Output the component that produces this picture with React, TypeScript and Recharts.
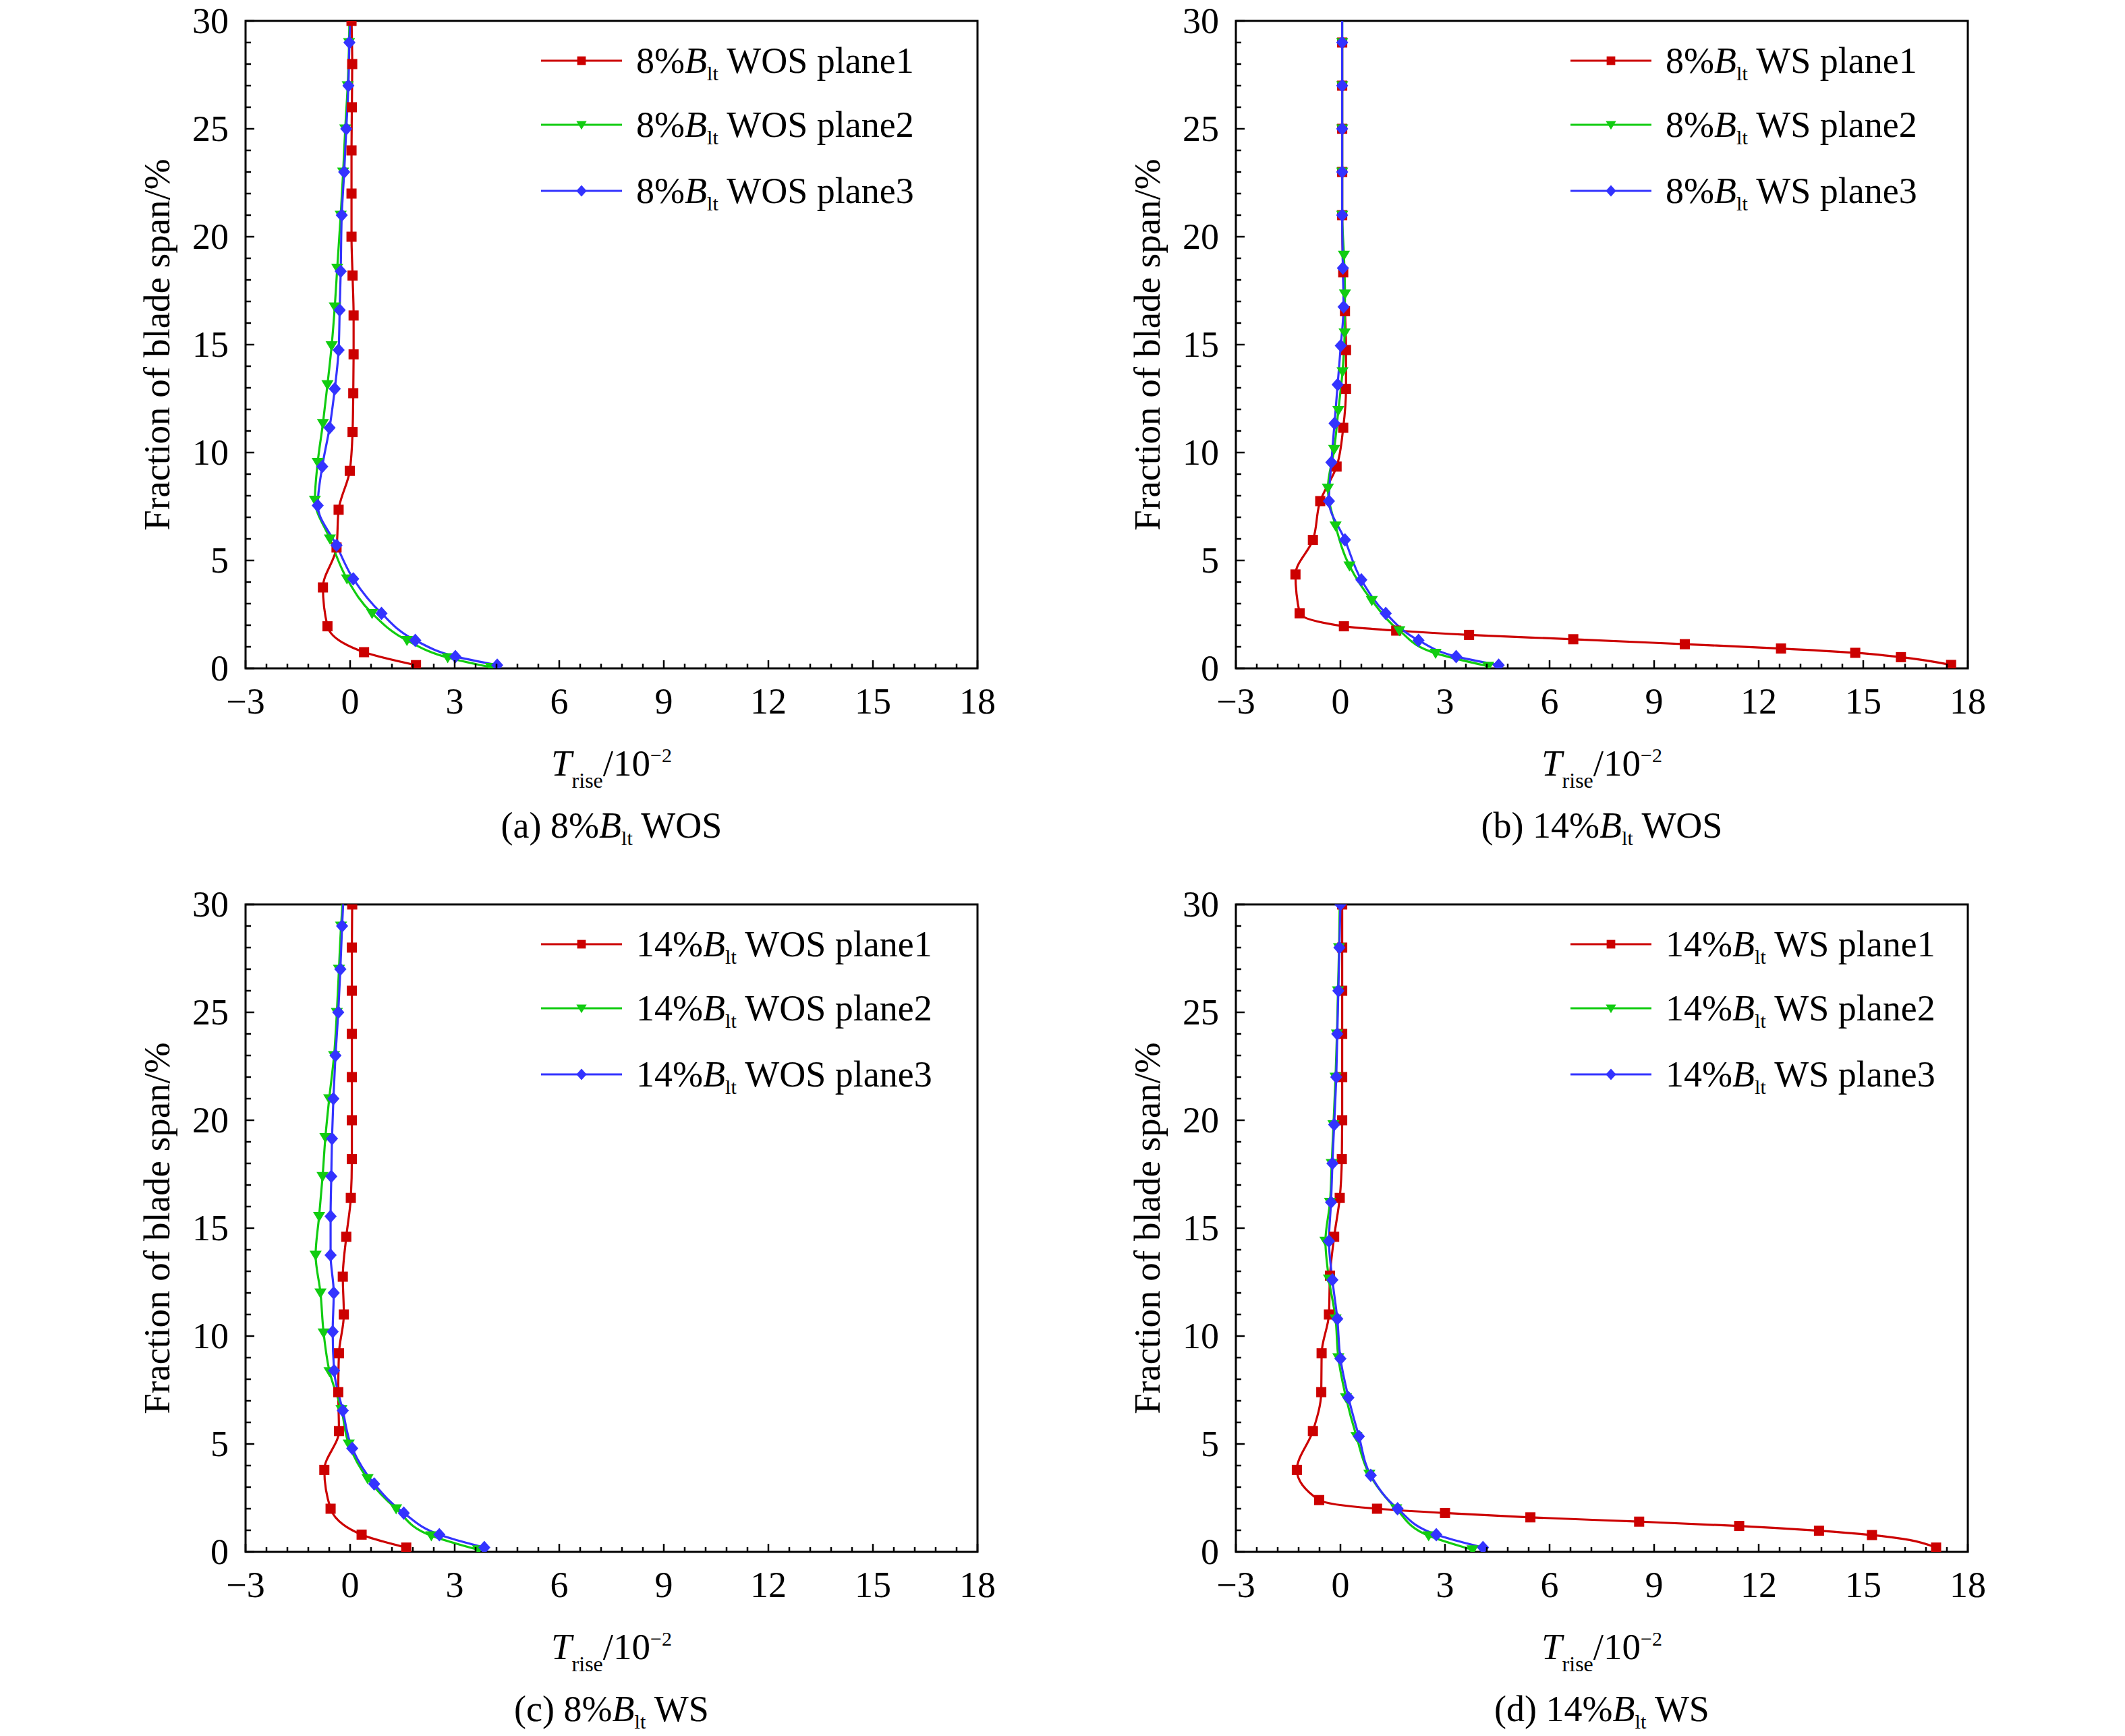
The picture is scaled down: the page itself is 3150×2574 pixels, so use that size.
import { LineChart, Line, XAxis, YAxis, ReferenceArea, Legend } from "recharts";

const FONT = '"Liberation Serif", "Times New Roman", serif';
const RED = "#cc0000";
const GREEN = "#11cc11";
const BLUE = "#3333ff";

// [T_rise (1e-2), fraction of blade span (%)]
const A_PLANE1 = [
  [0.04, 30], [0.06, 28], [0.05, 26], [0.04, 24], [0.04, 22], [0.04, 20], [0.07, 18.2],
  [0.1, 16.35], [0.1, 14.55], [0.09, 12.75], [0.07, 10.95], [-0.01, 9.15], [-0.33, 7.35],
  [-0.39, 5.6], [-0.78, 3.75], [-0.65, 1.95], [0.4, 0.75], [1.89, 0.15],
];
const A_PLANE2 = [
  [-0.02, 30], [-0.03, 29], [-0.07, 27], [-0.14, 25], [-0.2, 23], [-0.27, 21], [-0.37, 18.55],
  [-0.44, 16.75], [-0.53, 14.95], [-0.65, 13.15], [-0.78, 11.35], [-0.93, 9.55], [-1.01, 7.8],
  [-0.58, 6.0], [-0.09, 4.15], [0.63, 2.55], [1.63, 1.3], [2.8, 0.5], [4.04, 0.05],
];
const A_PLANE3 = [
  [0.0, 30], [-0.02, 29], [-0.05, 27], [-0.11, 25], [-0.17, 23], [-0.24, 21], [-0.27, 18.4],
  [-0.3, 16.6], [-0.33, 14.75], [-0.44, 12.95], [-0.59, 11.15], [-0.8, 9.35], [-0.93, 7.55],
  [-0.39, 5.7], [0.09, 4.15], [0.9, 2.55], [1.87, 1.3], [3.02, 0.55], [4.22, 0.15],
];

const B_PLANE1 = [
  [0.05, 29], [0.05, 27], [0.05, 25], [0.05, 23], [0.05, 21], [0.08, 18.35], [0.13, 16.55],
  [0.16, 14.75], [0.16, 12.95], [0.08, 11.15], [-0.11, 9.35], [-0.58, 7.75], [-0.79, 5.95],
  [-1.29, 4.35], [-1.17, 2.55], [0.1, 1.95], [1.6, 1.75], [3.69, 1.55], [6.68, 1.35],
  [9.88, 1.12], [12.64, 0.92], [14.77, 0.72], [16.08, 0.52], [17.52, 0.16],
];
const B_PLANE2 = [
  [0.05, 30], [0.05, 29], [0.05, 27], [0.05, 25], [0.05, 23], [0.05, 21], [0.1, 19.15],
  [0.13, 17.35], [0.12, 15.55], [0.06, 13.75], [-0.06, 11.95], [-0.18, 10.15], [-0.36, 8.35],
  [-0.14, 6.6], [0.26, 4.75], [0.9, 3.15], [1.69, 1.75], [2.73, 0.7], [4.24, 0.1],
];
const B_PLANE3 = [
  [0.05, 30], [0.05, 29], [0.05, 27], [0.05, 25], [0.05, 23], [0.05, 21], [0.07, 18.55],
  [0.09, 16.75], [0.01, 14.95], [-0.08, 13.15], [-0.17, 11.35], [-0.26, 9.55], [-0.33, 7.75],
  [0.13, 5.95], [0.6, 4.1], [1.3, 2.55], [2.24, 1.3], [3.32, 0.55], [4.54, 0.15],
];

const C_PLANE1 = [
  [0.06, 30], [0.05, 28], [0.05, 26], [0.05, 24], [0.05, 22], [0.05, 20], [0.05, 18.2],
  [0.02, 16.4], [-0.11, 14.6], [-0.21, 12.75], [-0.18, 11.0], [-0.32, 9.2], [-0.34, 7.4],
  [-0.32, 5.6], [-0.74, 3.8], [-0.56, 2.0], [0.33, 0.8], [1.61, 0.2],
];
const C_PLANE2 = [
  [-0.22, 30], [-0.26, 29], [-0.32, 27], [-0.38, 25], [-0.46, 23], [-0.6, 21], [-0.71, 19.2],
  [-0.79, 17.4], [-0.89, 15.55], [-0.99, 13.75], [-0.85, 12.0], [-0.76, 10.15], [-0.59, 8.35],
  [-0.25, 6.6], [-0.04, 5.0], [0.5, 3.4], [1.32, 2.0], [2.33, 0.75], [3.67, 0.1],
];
const C_PLANE3 = [
  [-0.2, 30], [-0.23, 29], [-0.28, 27], [-0.34, 25], [-0.42, 23], [-0.48, 21], [-0.52, 19.15],
  [-0.54, 17.4], [-0.56, 15.55], [-0.56, 13.75], [-0.47, 12.0], [-0.5, 10.2], [-0.46, 8.4],
  [-0.21, 6.55], [0.06, 4.8], [0.69, 3.15], [1.54, 1.8], [2.56, 0.8], [3.85, 0.2],
];

const D_PLANE1 = [
  [0.05, 30], [0.05, 28], [0.05, 26], [0.05, 24], [0.05, 22], [0.05, 20], [0.04, 18.2],
  [-0.02, 16.4], [-0.18, 14.6], [-0.3, 12.8], [-0.33, 11.0], [-0.54, 9.2], [-0.55, 7.4],
  [-0.79, 5.6], [-1.25, 3.8], [-0.61, 2.4], [1.05, 2.0], [3.0, 1.8], [5.45, 1.6], [8.57, 1.4],
  [11.44, 1.2], [13.73, 0.98], [15.25, 0.78], [17.09, 0.2],
];
const D_PLANE2 = [
  [-0.02, 30], [-0.04, 28], [-0.07, 26], [-0.1, 24], [-0.14, 22], [-0.2, 19.8], [-0.25, 18.0],
  [-0.3, 16.2], [-0.43, 14.4], [-0.33, 12.65], [-0.14, 10.8], [-0.06, 9.0], [0.16, 7.15],
  [0.46, 5.35], [0.83, 3.6], [1.6, 2.0], [2.53, 0.75], [3.79, 0.1],
];
const D_PLANE3 = [
  [0.0, 30], [-0.03, 28], [-0.06, 26], [-0.09, 24], [-0.12, 22], [-0.18, 19.8], [-0.23, 18.0],
  [-0.27, 16.2], [-0.33, 14.4], [-0.23, 12.6], [-0.09, 10.8], [0.0, 8.95], [0.23, 7.15],
  [0.53, 5.35], [0.87, 3.55], [1.64, 2.0], [2.75, 0.8], [4.09, 0.2],
];

const X_TICKS = [
  -3, -2.4, -1.8, -1.2, -0.6, 0, 0.6, 1.2, 1.8, 2.4, 3, 3.6, 4.2, 4.8, 5.4, 6, 6.6, 7.2, 7.8,
  8.4, 9, 9.6, 10.2, 10.8, 11.4, 12, 12.6, 13.2, 13.8, 14.4, 15, 15.6, 16.2, 16.8, 17.4, 18,
];
const X_LABELS = [-3, 0, 3, 6, 9, 12, 15, 18];
const Y_TICKS = [
  0, 1, 2, 3, 4, 5, 6, 7, 8, 9, 10, 11, 12, 13, 14, 15, 16, 17, 18, 19, 20, 21, 22, 23, 24, 25,
  26, 27, 28, 29, 30,
];
const Y_LABELS = [0, 5, 10, 15, 20, 25, 30];
const PLANE_NAMES = ["plane1", "plane2", "plane3"];

// layout (px)
const PLOT_LEFT = 364;
const PLOT_TOP = 31;
const PLOT_W = 1085;
const PLOT_H = 960;
const X_AXIS_H = 275;
const RIGHT_PAD = 45;
const CHART_W = PLOT_LEFT + PLOT_W + RIGHT_PAD;
const CHART_H = PLOT_TOP + PLOT_H + X_AXIS_H;
const LEGEND_ROWS = [59, 154, 252];

const STYLES = [
  { color: RED, shape: "square" },
  { color: GREEN, shape: "tri" },
  { color: BLUE, shape: "diamond" },
];

const PANELS = [
  { id: "a", left: 0, top: 0, legendLeft: 438, skipTop: true, pct: "8%", kind: "WOS",
    capPre: "(a) 8%", capPost: "WOS", series: [A_PLANE1, A_PLANE2, A_PLANE3] },
  { id: "b", left: 1468, top: 0, legendLeft: 496, skipTop: true, pct: "8%", kind: "WS",
    capPre: "(b) 14%", capPost: "WOS", series: [B_PLANE1, B_PLANE2, B_PLANE3] },
  { id: "c", left: 0, top: 1310, legendLeft: 438, skipTop: true, pct: "14%", kind: "WOS",
    capPre: "(c) 8%", capPost: "WS", series: [C_PLANE1, C_PLANE2, C_PLANE3] },
  { id: "d", left: 1468, top: 1310, legendLeft: 496, skipTop: false, pct: "14%", kind: "WS",
    capPre: "(d) 14%", capPost: "WS", series: [D_PLANE1, D_PLANE2, D_PLANE3] },
];

const toPoints = (pairs: number[][]) => pairs.map(([x, y]) => ({ x, y }));
const fmt = (v: number) => (v < 0 ? `\u2212${Math.abs(v)}` : `${v}`);

function Marker({ cx, cy, shape, color, s = 1 }: any) {
  if (shape === "square") {
    return <rect x={cx - 7.5 * s} y={cy - 7.5 * s} width={15 * s} height={15 * s} fill={color} />;
  }
  if (shape === "tri") {
    return (
      <path
        d={`M${cx - 9 * s},${cy - 6.5 * s}L${cx + 9 * s},${cy - 6.5 * s}L${cx},${cy + 8.5 * s}Z`}
        fill={color}
      />
    );
  }
  return (
    <path
      d={`M${cx},${cy - 10 * s}L${cx + 9 * s},${cy}L${cx},${cy + 10 * s}L${cx - 9 * s},${cy}Z`}
      fill={color}
    />
  );
}

const makeDot = (shape: string, color: string, skipFirst: boolean) => (props: any) => {
  const { cx, cy, index } = props;
  if (cx == null || cy == null || (skipFirst && index === 0)) return <g key={`d${index}`} />;
  return <Marker key={`d${index}`} cx={cx} cy={cy} shape={shape} color={color} />;
};

function BltText({ x, y, pre, post, size, anchor = "start" }: any) {
  return (
    <text x={x} y={y} fontFamily={FONT} fontSize={size} textAnchor={anchor} fill="#000"
      style={{ whiteSpace: "pre" }}>
      {pre}
      <tspan fontStyle="italic">B</tspan>
      <tspan fontSize={size * 0.56} dy={size * 0.2}>lt</tspan>
      <tspan dy={-size * 0.2}>{" " + post}</tspan>
    </text>
  );
}

function XTick({ x, y, payload }: any) {
  const v = payload.value;
  const major = X_LABELS.includes(v);
  return (
    <g>
      <line x1={x} x2={x} y1={y} y2={y - (major ? 12 : 7)} stroke="#000" strokeWidth={2.5} />
      {major && (
        <text x={x} y={y + 67} textAnchor="middle" fontFamily={FONT} fontSize={54} fill="#000">
          {fmt(v)}
        </text>
      )}
    </g>
  );
}

function YTick({ x, y, payload }: any) {
  const v = payload.value;
  const major = Y_LABELS.includes(v);
  return (
    <g>
      <line x1={x} x2={x + (major ? 13 : 8)} y1={y} y2={y} stroke="#000" strokeWidth={2.5} />
      {major && (
        <text x={x - 25} y={y + 18} textAnchor="end" fontFamily={FONT} fontSize={54} fill="#000">
          {fmt(v)}
        </text>
      )}
    </g>
  );
}

function Panel({ p }: any) {
  const cx = PLOT_LEFT + PLOT_W / 2;
  const axisY = PLOT_TOP + PLOT_H;
  const legendContent = () => (
    <svg width={700} height={300} style={{ display: "block" }}>
      {STYLES.map((st, i) => (
        <g key={i}>
          <line x1={10} x2={130} y1={LEGEND_ROWS[i]} y2={LEGEND_ROWS[i]} stroke={st.color}
            strokeWidth={3} />
          <Marker cx={70} cy={LEGEND_ROWS[i]} shape={st.shape} color={st.color} s={0.85} />
          <BltText x={151} y={LEGEND_ROWS[i] + 18} size={54} pre={p.pct}
            post={`${p.kind} ${PLANE_NAMES[i]}`} />
        </g>
      ))}
    </svg>
  );
  return (
    <div style={{ position: "absolute", left: p.left, top: p.top }}>
      <LineChart width={CHART_W} height={CHART_H}
        margin={{ top: PLOT_TOP, right: RIGHT_PAD, bottom: 0, left: 0 }}>
        <XAxis dataKey="x" type="number" domain={[-3, 18]} ticks={X_TICKS} interval={0}
          allowDataOverflow axisLine={false} tickLine={false} tickSize={0} tickMargin={0}
          height={X_AXIS_H} tick={(t: any) => <XTick {...t} />}
          label={{
            content: () => (
              <g>
                <text x={cx} y={axisY + 159} textAnchor="middle" fontFamily={FONT}
                  fontSize={55} fill="#000">
                  <tspan fontStyle="italic">T</tspan>
                  <tspan fontSize={32} dy={18}>rise</tspan>
                  <tspan dy={-18}>/10</tspan>
                  <tspan fontSize={30} dy={-20}>{"\u22122"}</tspan>
                </text>
                <BltText x={cx} y={axisY + 251} size={54} pre={p.capPre} post={p.capPost}
                  anchor="middle" />
              </g>
            ),
          }} />
        <YAxis type="number" domain={[0, 30]} ticks={Y_TICKS} interval={0} allowDataOverflow
          axisLine={false} tickLine={false} tickSize={0} tickMargin={0} width={PLOT_LEFT}
          tick={(t: any) => <YTick {...t} />}
          label={{
            content: () => (
              <text x={251} y={PLOT_TOP + PLOT_H / 2} textAnchor="middle" fontFamily={FONT}
                fontSize={55} fill="#000" transform={`rotate(-90 251 ${PLOT_TOP + PLOT_H / 2})`}>
                Fraction of blade span/%
              </text>
            ),
          }} />
        <ReferenceArea x1={-3} x2={18} y1={0} y2={30} fill="none" stroke="#000"
          strokeWidth={3} fillOpacity={0} />
        {p.series.map((pairs: number[][], i: number) => (
          <Line key={i} data={toPoints(pairs)} dataKey="y" type="monotoneY"
            stroke={STYLES[i].color} strokeWidth={3.2}
            dot={makeDot(STYLES[i].shape, STYLES[i].color, p.skipTop && i > 0)}
            activeDot={false} isAnimationActive={false} legendType="none" />
        ))}
        <Legend layout="horizontal" verticalAlign="middle" align="center" width={700} height={300}
          wrapperStyle={{ left: PLOT_LEFT + p.legendLeft - 10, top: PLOT_TOP, width: 700 }}
          content={legendContent} />
      </LineChart>
    </div>
  );
}

export default function App() {
  return (
    <div style={{ position: "absolute", left: 0, top: 0, width: 3150, height: 2574,
      background: "#fff", fontFamily: FONT, overflow: "hidden" }}>
      {PANELS.map((p) => (
        <Panel key={p.id} p={p} />
      ))}
    </div>
  );
}
